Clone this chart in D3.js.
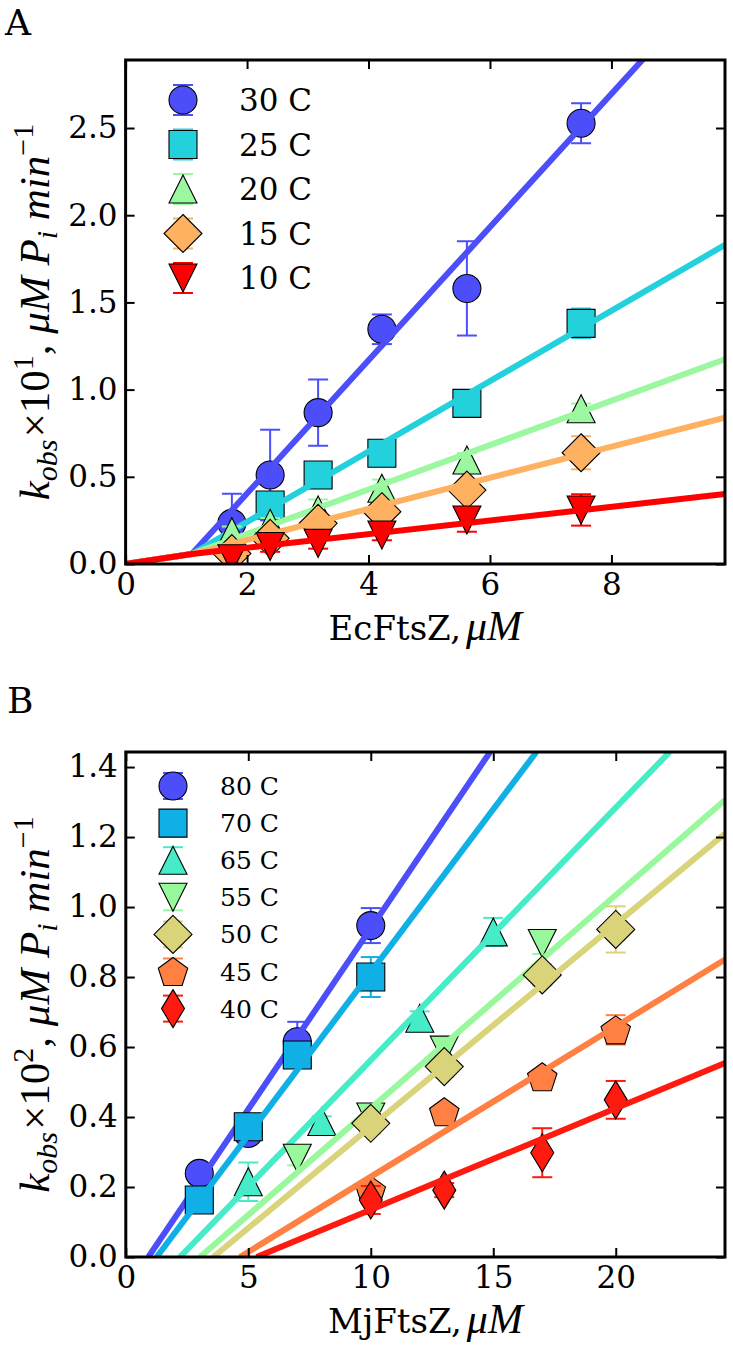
<!DOCTYPE html>
<html><head><meta charset="utf-8">
<script src="https://cdn.jsdelivr.net/npm/d3@7"></script>
<style>body{margin:0;background:#fff}</style>
</head><body>
<svg id="chart" width="733" height="1346"></svg>
<script>
// ---------------- DATA ----------------
// Panel A (EcFtsZ)
const aLabels = ["30 C","25 C","20 C","15 C","10 C"];
const aColors = ["#4c4efa","#22d1dc","#9cf8a0","#ffb162","#ff0000"];
const aShapes = ["circle","square","triangle","diamond","triangleDown"];
const a30x = [1.75,2.38,3.17,4.22,5.62,7.5];
const a30y = [0.233,0.51,0.868,1.346,1.58,2.527];
const a30e = [0.17,0.26,0.19,0.085,0.27,0.115];
const a25x = [2.38,3.17,4.22,5.62,7.5];
const a25y = [0.338,0.51,0.635,0.921,1.38];
const a25e = [0.03,0.03,0.03,0.03,0.085];
const a20x = [1.75,2.38,3.17,4.22,5.62,7.5];
const a20y = [0.185,0.233,0.31,0.434,0.596,0.89];
const a20e = [0.03,0.03,0.06,0.05,0.04,0.03];
const a15x = [1.75,2.38,3.17,4.22,5.62,7.5];
const a15y = [0.06,0.147,0.233,0.30,0.424,0.638];
const a15e = [0.04,0.04,0.04,0.04,0.04,0.095];
const a10x = [1.75,2.38,3.17,4.22,5.62,7.5];
const a10y = [0.03,0.10,0.118,0.166,0.252,0.31];
const a10e = [0.03,0.03,0.03,0.03,0.067,0.09];
// fitted lines of panel A: (0,0) -> common knee -> value at the right edge
const aKnee = [1.09, 0.057];
const aFitXEnd = 9.87;
const aFitYEnd = [3.41, 1.83, 1.174, 0.839, 0.401];
const aXTicks = [0,2,4,6,8];
const aYTicks = [0.0,0.5,1.0,1.5,2.0,2.5];

// Panel B (MjFtsZ)
const bLabels = ["80 C","70 C","65 C","55 C","50 C","45 C","40 C"];
const bColors = ["#4c4efa","#10b0e6","#46ecc8","#98f89c","#d9d47a","#ff8042","#ff1a10"];
const bShapes = ["circle","square","triangle","triangleDown","diamond","pentagon","thinDiamond"];
const b80x = [3,5,7,10];   const b80y = [0.239,0.353,0.615,0.947]; const b80e = [0.02,0.02,0.057,0.05];
const b70x = [3,5,7,10];   const b70y = [0.163,0.372,0.577,0.80];  const b70e = [0.02,0.03,0.02,0.057];
const b65x = [5,8,12,15];  const b65y = [0.215,0.387,0.682,0.929]; const b65e = [0.055,0.015,0.02,0.04];
const b55x = [7,10,13,17]; const b55y = [0.282,0.40,0.591,0.896];  const b55e = [0.02,0.02,0.03,0.03];
const b50x = [10,13,17,20];const b50y = [0.382,0.544,0.806,0.936]; const b50e = [0.03,0.03,0.03,0.066];
const b45x = [10,13,17,20];const b45y = [0.191,0.415,0.515,0.649]; const b45e = [0.02,0.02,0.02,0.042];
const b40x = [10,13,17,20];const b40y = [0.163,0.191,0.298,0.449]; const b40e = [0.04,0.02,0.07,0.054];
// fitted lines of panel B: start on x axis, end at plot border
const bFitStartX = [0.92,1.26,2.21,3.03,3.57,4.66,5.34];
const bFitEnd = [[14.87,1.443],[16.76,1.443],[22.2,1.443],[24.46,1.306],[24.46,1.21],[24.46,0.85],[24.46,0.554]];
const bXTicks = [0,5,10,15,20];
const bYTicks = [0.0,0.2,0.4,0.6,0.8,1.0,1.2,1.4];

// ---------------- DRAWING ----------------
const svg = d3.select("#chart");
const serif = "'DejaVu Serif', serif";
const mathFont = "'Liberation Serif', 'DejaVu Serif', serif";

function markerPath(shape){
  const h = 14;
  switch(shape){
    case "circle": return `M${h},0A${h},${h} 0 1,1 ${-h},0A${h},${h} 0 1,1 ${h},0Z`;
    case "square": return `M${-h},${-h}H${h}V${h}H${-h}Z`;
    case "triangle": return `M0,${-h}L${h},${h}L${-h},${h}Z`;
    case "triangleDown": return `M0,${h}L${h},${-h}L${-h},${-h}Z`;
    case "diamond": return `M0,-19L19,0L0,19L-19,0Z`;
    case "thinDiamond": return `M0,-19L11.5,0L0,19L-11.5,0Z`;
    case "pentagon": {
      const r = 15.5; const pts = d3.range(5).map(k=>{const a=-Math.PI/2+k*2*Math.PI/5;return [r*Math.cos(a), r*Math.sin(a)+1.5];});
      return "M"+pts.map(p=>p.join(",")).join("L")+"Z";
    }
  }
}

function drawPanel(cfg){
  const {L,R,T,B} = cfg.box;
  const x = d3.scaleLinear().domain(cfg.xDomain).range([L,R]);
  const y = d3.scaleLinear().domain(cfg.yDomain).range([B,T]);
  const g = svg.append("g");
  const clipId = "clip"+cfg.id;
  g.append("clipPath").attr("id",clipId).append("rect")
    .attr("x",L).attr("y",T).attr("width",R-L).attr("height",B-T);
  const plot = g.append("g").attr("clip-path",`url(#${clipId})`);
  const line = d3.line().x(d=>x(d[0])).y(d=>y(d[1]));

  cfg.series.forEach(s=>{
    const pts = s.x.map((xv,i)=>({x:xv,y:s.y[i],e:s.e[i]}));
    const eb = plot.append("g").attr("stroke",s.color).attr("stroke-width",2);
    pts.forEach(p=>{
      const cx = x(p.x), y1 = y(p.y-p.e), y2 = y(p.y+p.e);
      eb.append("line").attr("x1",cx).attr("x2",cx).attr("y1",y1).attr("y2",y2);
      eb.append("line").attr("x1",cx-10).attr("x2",cx+10).attr("y1",y1).attr("y2",y1);
      eb.append("line").attr("x1",cx-10).attr("x2",cx+10).attr("y1",y2).attr("y2",y2);
    });
    plot.append("g").selectAll("path").data(pts).join("path")
      .attr("d",markerPath(s.shape))
      .attr("transform",p=>`translate(${x(p.x)},${y(p.y)})`)
      .attr("fill",s.color).attr("stroke","#000").attr("stroke-width",1.1);
    plot.append("path").datum(s.fit).attr("d",line)
      .attr("fill","none").attr("stroke",s.color).attr("stroke-width",6)
      .attr("stroke-linejoin","round");
  });

  // axes (ticks inside, on all four sides)
  const fmtY = d3.format(".1f");
  const styleAxis = sel=>{
    sel.select(".domain").remove();
    sel.selectAll(".tick line").attr("stroke","#000").attr("stroke-width",2);
    sel.selectAll(".tick text").attr("fill","#000").style("font-family",serif).style("font-size","31px");
  };
  g.append("g").attr("transform",`translate(0,${B})`)
    .call(d3.axisBottom(x).tickValues(cfg.xTicks).tickFormat(d3.format("d")).tickSizeInner(-9).tickSizeOuter(0).tickPadding(9))
    .call(styleAxis);
  g.append("g").attr("transform",`translate(0,${T})`)
    .call(d3.axisTop(x).tickValues(cfg.xTicks).tickFormat("").tickSizeInner(-9).tickSizeOuter(0))
    .call(styleAxis);
  g.append("g").attr("transform",`translate(${L},0)`)
    .call(d3.axisLeft(y).tickValues(cfg.yTicks).tickFormat(fmtY).tickSizeInner(-9).tickSizeOuter(0).tickPadding(8))
    .call(styleAxis);
  g.append("g").attr("transform",`translate(${R},0)`)
    .call(d3.axisRight(y).tickValues(cfg.yTicks).tickFormat("").tickSizeInner(-9).tickSizeOuter(0))
    .call(styleAxis);
  g.append("rect").attr("x",L).attr("y",T).attr("width",R-L).attr("height",B-T)
    .attr("fill","none").attr("stroke","#000").attr("stroke-width",3);

  // legend
  const lg = g.append("g");
  cfg.series.forEach((s,i)=>{
    const ly = cfg.legend.y0 + i*cfg.legend.step, lx = cfg.legend.x;
    const eh = cfg.legend.eh;
    const e = lg.append("g").attr("stroke",s.color).attr("stroke-width",2);
    e.append("line").attr("x1",lx).attr("x2",lx).attr("y1",ly-eh).attr("y2",ly+eh);
    e.append("line").attr("x1",lx-10).attr("x2",lx+10).attr("y1",ly-eh).attr("y2",ly-eh);
    e.append("line").attr("x1",lx-10).attr("x2",lx+10).attr("y1",ly+eh).attr("y2",ly+eh);
    lg.append("path").attr("d",markerPath(s.shape)).attr("transform",`translate(${lx},${ly})`)
      .attr("fill",s.color).attr("stroke","#000").attr("stroke-width",1.1);
    lg.append("text").attr("x",cfg.legend.tx).attr("y",ly).attr("dy","0.36em")
      .style("font-family",serif).style("font-size",cfg.legend.fs+"px").text(s.label);
  });

  // x label
  const xl = g.append("text").attr("x",(L+R)/2).attr("y",cfg.xLabelY).attr("text-anchor","middle")
    .style("font-family",serif).style("font-size","34px");
  xl.append("tspan").text(cfg.xLabel);
  xl.append("tspan").attr("dx",5).style("font-family",mathFont).style("font-style","italic").style("font-size","42px").text("μM");

  // y label (rotated)
  const yl = g.append("text").attr("transform",`translate(${cfg.yLabelX},${(T+B)/2}) rotate(-90)`)
    .attr("text-anchor","middle").style("font-family",mathFont).style("font-size","43px");
  yl.append("tspan").style("font-style","italic").text("k");
  yl.append("tspan").style("font-style","italic").style("font-size","30px").attr("dy",8).text("obs");
  yl.append("tspan").attr("dy",-8).attr("dx",2).text("×10");
  yl.append("tspan").style("font-size","30px").attr("dy",-16).text(cfg.exp);
  yl.append("tspan").attr("dy",16).text(", ");
  yl.append("tspan").style("font-style","italic").text("μM P");
  yl.append("tspan").style("font-style","italic").style("font-size","30px").attr("dy",8).text("i");
  yl.append("tspan").style("font-style","italic").attr("dy",-8).text(" min");
  yl.append("tspan").style("font-size","30px").attr("dy",-16).text("−1");

  // panel letter
  svg.append("text").attr("x",cfg.letter[0]).attr("y",cfg.letter[1])
    .style("font-family",serif).style("font-size","36px").text(cfg.id);
}

const aSeries = [
  {x:a30x,y:a30y,e:a30e},{x:a25x,y:a25y,e:a25e},{x:a20x,y:a20y,e:a20e},
  {x:a15x,y:a15y,e:a15e},{x:a10x,y:a10y,e:a10e}
].map((s,i)=>Object.assign(s,{label:aLabels[i],color:aColors[i],shape:aShapes[i],
  fit:[[0,0],aKnee,[aFitXEnd,aFitYEnd[i]]]}));

const bSeries = [
  {x:b80x,y:b80y,e:b80e},{x:b70x,y:b70y,e:b70e},{x:b65x,y:b65y,e:b65e},{x:b55x,y:b55y,e:b55e},
  {x:b50x,y:b50y,e:b50e},{x:b45x,y:b45y,e:b45e},{x:b40x,y:b40y,e:b40e}
].map((s,i)=>Object.assign(s,{label:bLabels[i],color:bColors[i],shape:bShapes[i],
  fit:[[bFitStartX[i],0],bFitEnd[i]]}));

drawPanel({id:"A",box:{L:125.6,R:725,T:60,B:564},xDomain:[0,9.87],yDomain:[0,2.89],
  xTicks:aXTicks,yTicks:aYTicks,series:aSeries,
  legend:{x:183,y0:100,step:44.5,tx:239,fs:31,eh:15},
  xLabel:"EcFtsZ,",xLabelY:640,yLabelX:49,exp:"1",letter:[5,35]});

drawPanel({id:"B",box:{L:125.8,R:725,T:752,B:1257},xDomain:[0,24.46],yDomain:[0,1.443],
  xTicks:bXTicks,yTicks:bYTicks,series:bSeries,
  legend:{x:173,y0:786,step:37.1,tx:220,fs:25,eh:13},
  xLabel:"MjFtsZ,",xLabelY:1333,yLabelX:49,exp:"2",letter:[7,713]});
</script>
</body></html>
